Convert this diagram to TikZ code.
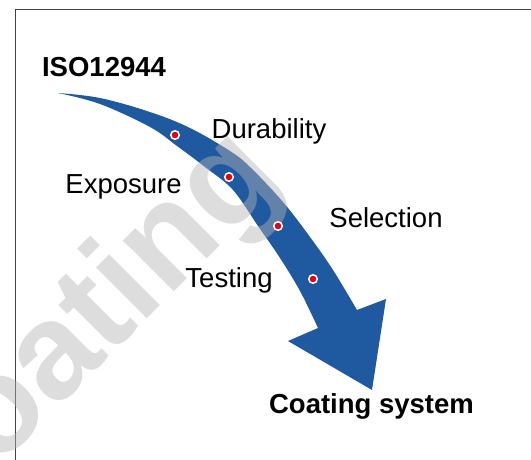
\documentclass[tikz,border=0pt]{standalone}
\usepackage{fontspec}
\setmainfont{Liberation Sans}
\usepackage{tikz}
\usetikzlibrary{positioning, calc}
\definecolor{arrowblue}{RGB}{31,89,160}
\definecolor{dotred}{RGB}{232,0,20}
\definecolor{framegray}{RGB}{64,64,64}
\definecolor{markgray}{RGB}{180,180,180}
\tikzstyle{textlabel} = [font=\fontsize{27.5}{30}\selectfont, inner sep=0pt, anchor=base]
\tikzstyle{boldlabel} = [textlabel, font=\fontsize{27.5}{30}\selectfont\bfseries]
\tikzstyle{stage} = [circle, fill=dotred, draw=white, line width=1.5pt, minimum size=8.5pt, inner sep=0pt]

\begin{document}
\begin{tikzpicture}[x=1pt, y=-1pt]
        \useasboundingbox (0,0) rectangle (531,459);
        \clip (0,0) rectangle (531,459);

        % Frame
        \draw[framegray, line width=1pt] (15,470) |- (540,9.5);

        % Curved arrow
        \fill[arrowblue] plot[smooth, tension=0.6] coordinates {(58,93) (100,98) (150,112) (190,128) (230,151) (250,167) (283,202) (310,237) (333,270) (357,310)}
            -- (386,299) -- (372,390) -- (288,341)
            -- plot[smooth, tension=0.6] coordinates {(318,328) (300,291) (280,258) (258,226) (233,190) (205,167) (177,146) (150,127) (100,104) (58,93)} -- cycle;

        % Watermark
        \node[rotate=45, anchor=base, inner sep=0pt, text=markgray, text opacity=0.45,
            font=\fontsize{136}{136}\selectfont\bfseries] (watermark) at (114,352) {coating};

        % Stages on the arrow
        \node[stage] (dotA) at (175,135) {};
        \node[stage] (dotB) at (229,177) {};
        \node[stage] (dotC) at (278,226) {};
        \node[stage] (dotD) at (313,279) {};

        % Labels
        \node[boldlabel] (iso) at (104,76.7) {ISO12944};
        \node[textlabel] (durability) at (269,138) {Durability};
        \node[textlabel] (exposure) at (123.5,193) {Exposure};
        \node[textlabel] (selection) at (386,227) {Selection};
        \node[textlabel] (testing) at (229,287) {Testing};
        \node[boldlabel] (coating) at (371.5,413) {Coating system};
    \end{tikzpicture}
\end{document}
